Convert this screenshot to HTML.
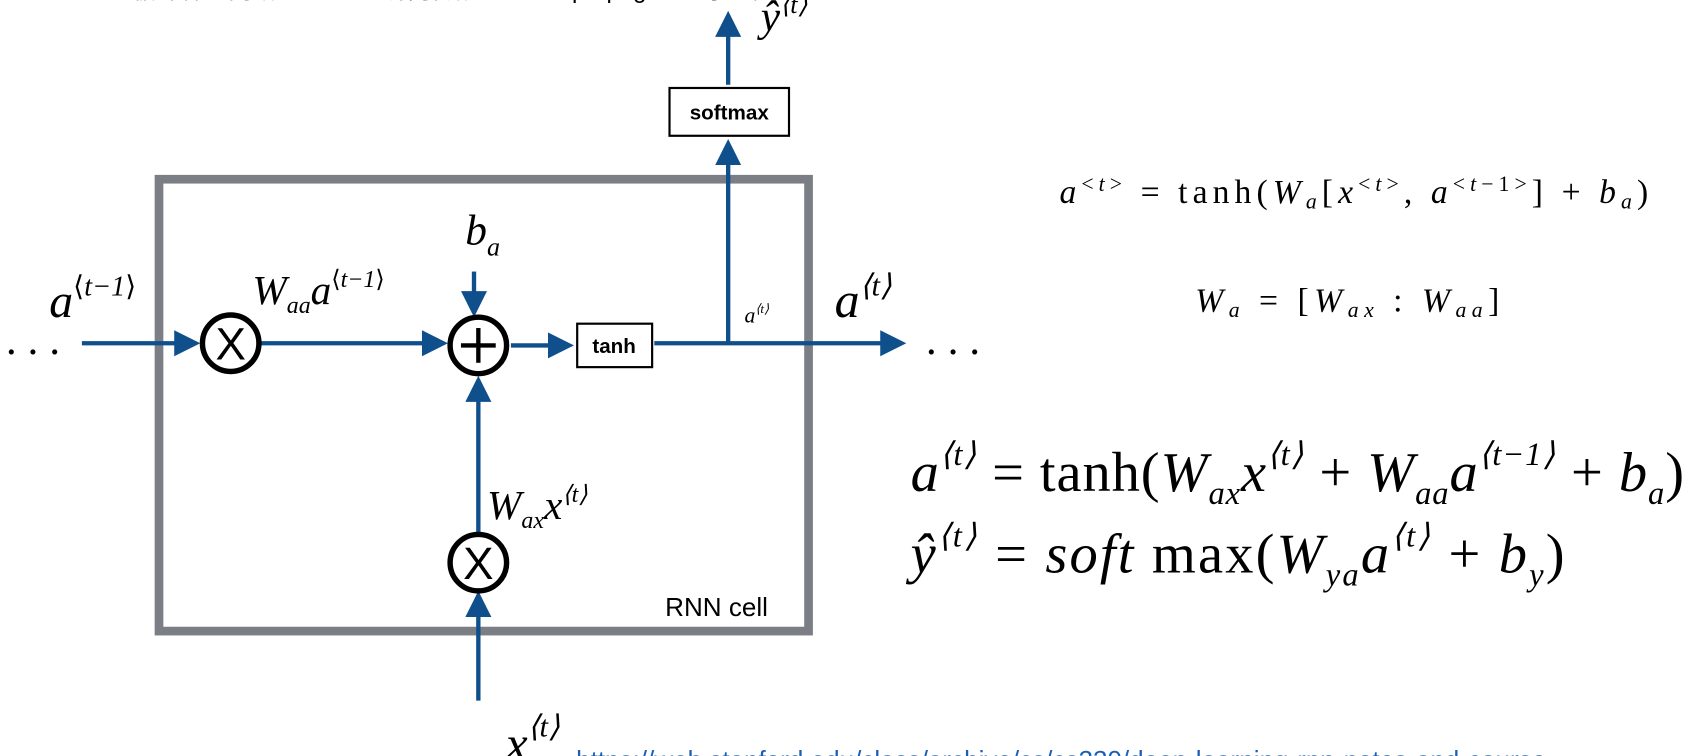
<!DOCTYPE html>
<html><head><meta charset="utf-8"><style>
html,body{margin:0;padding:0;background:#fff;width:1704px;height:756px;overflow:hidden}
svg{display:block}
.s{font-family:"Liberation Serif",serif;font-style:italic;fill:#000}
.r{font-family:"Liberation Serif",serif;fill:#000}
.sans{font-family:"Liberation Sans",sans-serif;fill:#000}
.ln{stroke:#0f4f8c;stroke-width:4;fill:none}
</style></head><body>
<svg width="1704" height="756" viewBox="0 0 1568 696">
<defs><marker id="ah" markerWidth="6" markerHeight="6" refX="5" refY="3" orient="auto" markerUnits="strokeWidth"><path d="M0,0 L6,3 L0,6 z" fill="#0f4f8c"/></marker></defs>
<text x="122" y="-2" class="sans" font-size="22" style="font-family:'Liberation Sans','Noto Sans CJK SC',sans-serif">循环神经网络 RNN cell 前向传播 forward propagation 示意图</text>
<rect x="146" y="165" width="598" height="416" fill="none" stroke="#7c7e85" stroke-width="8"/>
<text x="612" y="567" class="sans" font-size="24" fill="#333">RNN cell</text>
<g>
<line x1="75" y1="316" x2="180" y2="316" class="ln" marker-end="url(#ah)"/>
<line x1="240" y1="316" x2="408" y2="316" class="ln" marker-end="url(#ah)"/>
<line x1="436" y1="250" x2="436" y2="288" class="ln" marker-end="url(#ah)"/>
<line x1="470" y1="318" x2="524" y2="318" class="ln" marker-end="url(#ah)"/>
<line x1="602" y1="316" x2="830" y2="316" class="ln" marker-end="url(#ah)"/>
<line x1="670" y1="316" x2="670" y2="132" class="ln" marker-end="url(#ah)"/>
<line x1="670" y1="78" x2="670" y2="14" class="ln" marker-end="url(#ah)"/>
<line x1="440" y1="490" x2="440" y2="350" class="ln" marker-end="url(#ah)"/>
<line x1="440" y1="645" x2="440" y2="548" class="ln" marker-end="url(#ah)"/>
</g>
<g><circle cx="212" cy="316" r="26" fill="#fff" stroke="#000" stroke-width="5"/><text x="212" y="331" text-anchor="middle" class="sans" font-size="42">X</text></g>
<g><circle cx="440" cy="318" r="26" fill="#fff" stroke="#000" stroke-width="5"/><line x1="424" y1="318" x2="456" y2="318" stroke="#000" stroke-width="4"/><line x1="440" y1="302" x2="440" y2="334" stroke="#000" stroke-width="4"/></g>
<g><circle cx="440" cy="518" r="26" fill="#fff" stroke="#000" stroke-width="5"/><text x="440" y="533" text-anchor="middle" class="sans" font-size="42">X</text></g>
<g><rect x="531" y="298" width="69" height="40" fill="#fff" stroke="#000" stroke-width="2"/><text x="565" y="325" text-anchor="middle" class="sans" font-size="19" font-weight="bold">tanh</text></g>
<g><rect x="616" y="81" width="110" height="44" fill="#fff" stroke="#000" stroke-width="2"/><text x="671" y="110" text-anchor="middle" class="sans" font-size="19" font-weight="bold">softmax</text></g>
<text x="5" y="326" class="r" font-size="40">. . .</text>
<text x="852" y="326" class="r" font-size="40">. . .</text>
<text x="45" y="292" class="s" font-size="44">a<tspan font-size="26" dy="-20" font-style="normal">⟨</tspan><tspan font-size="26">t−1</tspan><tspan font-size="26" font-style="normal">⟩</tspan></text>
<text x="232" y="280" class="s" font-size="38">W<tspan font-size="22" dy="8">aa</tspan><tspan dy="-8">a</tspan><tspan font-size="22" dy="-16" font-style="normal">⟨</tspan><tspan font-size="22">t−1</tspan><tspan font-size="22" font-style="normal">⟩</tspan></text>
<text x="428" y="225" class="s" font-size="40">b<tspan font-size="24" dy="10">a</tspan></text>
<text x="685" y="297" class="s" font-size="20">a<tspan font-size="12" dy="-9">⟨t⟩</tspan></text>
<text x="768" y="292" class="s" font-size="46">a<tspan font-size="28" dy="-20">⟨t⟩</tspan></text>
<text x="700" y="28" class="s" font-size="40">ŷ<tspan font-size="24" dy="-16">⟨t⟩</tspan></text>
<text x="448" y="478" class="s" font-size="38">W<tspan font-size="22" dy="8">ax</tspan><tspan dy="-8">x</tspan><tspan font-size="22" dy="-16">⟨t⟩</tspan></text>
<text x="465" y="700" class="s" font-size="46">x<tspan font-size="28" dy="-22">⟨t⟩</tspan></text>
<text x="975" y="187" class="r" font-size="31" textLength="542" lengthAdjust="spacing"><tspan font-style="italic">a</tspan><tspan font-size="20" dy="-11">&lt;</tspan><tspan font-size="20" font-style="italic">t</tspan><tspan font-size="20">&gt;</tspan><tspan dy="11"> = tanh(</tspan><tspan font-style="italic">W</tspan><tspan font-size="20" dy="5" font-style="italic">a</tspan><tspan dy="-5">[</tspan><tspan font-style="italic">x</tspan><tspan font-size="20" dy="-11">&lt;</tspan><tspan font-size="20" font-style="italic">t</tspan><tspan font-size="20">&gt;</tspan><tspan dy="11">, </tspan><tspan font-style="italic">a</tspan><tspan font-size="20" dy="-11">&lt;</tspan><tspan font-size="20" font-style="italic">t</tspan><tspan font-size="20">−1&gt;</tspan><tspan dy="11">] + </tspan><tspan font-style="italic">b</tspan><tspan font-size="20" dy="5" font-style="italic">a</tspan><tspan dy="-5">)</tspan></text>
<text x="1100" y="287" class="r" font-size="31" textLength="280" lengthAdjust="spacing"><tspan font-style="italic">W</tspan><tspan font-size="20" dy="5" font-style="italic">a</tspan><tspan dy="-5"> = [</tspan><tspan font-style="italic">W</tspan><tspan font-size="20" dy="5" font-style="italic">ax</tspan><tspan dy="-5"> : </tspan><tspan font-style="italic">W</tspan><tspan font-size="20" dy="5" font-style="italic">aa</tspan><tspan dy="-5">]</tspan></text>
<text x="838" y="452" class="r" font-size="52" textLength="712" lengthAdjust="spacing"><tspan font-style="italic">a</tspan><tspan font-size="30" dy="-24" font-style="italic">⟨t⟩</tspan><tspan dy="24"> = tanh(</tspan><tspan font-style="italic">W</tspan><tspan font-size="30" dy="12" font-style="italic">ax</tspan><tspan dy="-12" font-style="italic">x</tspan><tspan font-size="30" dy="-24" font-style="italic">⟨t⟩</tspan><tspan dy="24"> + </tspan><tspan font-style="italic">W</tspan><tspan font-size="30" dy="12" font-style="italic">aa</tspan><tspan dy="-12" font-style="italic">a</tspan><tspan font-size="30" dy="-24" font-style="italic">⟨t−1⟩</tspan><tspan dy="24"> + </tspan><tspan font-style="italic">b</tspan><tspan font-size="30" dy="12" font-style="italic">a</tspan><tspan dy="-12">)</tspan></text>
<text x="838" y="527" class="r" font-size="52" textLength="602" lengthAdjust="spacing"><tspan font-style="italic">ŷ</tspan><tspan font-size="30" dy="-24" font-style="italic">⟨t⟩</tspan><tspan dy="24"> = </tspan><tspan font-style="italic">soft</tspan><tspan> max(</tspan><tspan font-style="italic">W</tspan><tspan font-size="30" dy="12" font-style="italic">ya</tspan><tspan dy="-12" font-style="italic">a</tspan><tspan font-size="30" dy="-24" font-style="italic">⟨t⟩</tspan><tspan dy="24"> + </tspan><tspan font-style="italic">b</tspan><tspan font-size="30" dy="12" font-style="italic">y</tspan><tspan dy="-12">)</tspan></text>
<text x="530" y="708" class="sans" font-size="24" style="fill:#1a5fb4">https://web.stanford.edu/class/archive/cs/cs230/deep-learning-rnn-notes-and-course</text>
</svg>
</body></html>
